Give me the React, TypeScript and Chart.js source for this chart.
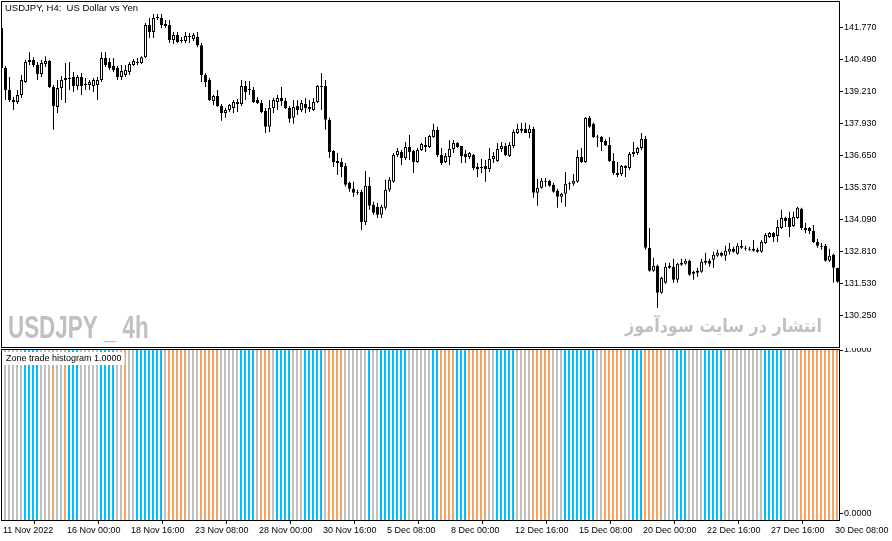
import React, { useEffect, useRef } from "react";
import { Chart, registerables } from "chart.js";
Chart.register(...registerables);

// ---------- DATA ----------
const chartTitle = "USDJPY, H4:  US Dollar vs Yen";
const watermarkSymbol = "USDJPY _ 4h";
const watermarkSite = "انتشار در سایت سودآموز";
const indicatorName = "Zone trade histogram";

const openP = [
  141.73, 140.14, 139.26, 138.86, 138.78, 139.06, 139.58, 140.38, 140.46, 140.26,
  139.90, 140.30, 140.42, 139.38, 138.58, 139.34, 139.66, 139.74, 139.78, 139.42,
  139.78, 139.50, 139.46, 139.42, 139.46, 139.66, 140.54, 140.38, 140.22, 140.14,
  139.78, 139.86, 139.98, 140.26, 140.34, 140.34, 140.57, 141.85, 141.57, 142.13,
  142.13, 141.89, 141.85, 141.25, 141.45, 141.25, 141.21, 141.41, 141.29, 141.37,
  141.05, 139.86, 139.66, 138.82, 139.02, 138.62, 138.34, 138.46, 138.54, 138.78,
  138.70, 139.42, 139.26, 139.26, 138.86, 138.74, 138.42, 137.79, 138.54, 138.78,
  138.94, 138.82, 138.54, 138.15, 138.62, 138.46, 138.70, 138.58, 138.46, 138.78,
  139.42, 139.42, 138.07, 136.83, 136.43, 136.39, 136.23, 135.56, 135.32, 135.20,
  135.20, 134.00, 135.44, 134.68, 134.60, 134.28, 134.56, 135.28, 135.60, 136.67,
  136.79, 136.55, 136.99, 136.83, 136.39, 136.87, 137.07, 136.99, 137.39, 137.67,
  136.67, 136.39, 136.59, 136.91, 137.15, 137.03, 136.71, 136.59, 136.67, 136.19,
  136.19, 136.23, 136.11, 136.51, 136.43, 136.91, 137.03, 136.63, 137.03, 137.55,
  137.63, 137.71, 137.55, 137.71, 135.16, 135.36, 135.64, 135.64, 135.48, 135.24,
  135.00, 135.12, 135.52, 135.52, 135.60, 136.59, 136.39, 138.15, 137.91, 137.39,
  137.39, 137.23, 137.07, 136.43, 135.95, 135.91, 136.23, 136.15, 136.71, 136.75,
  136.95, 137.31, 132.97, 132.05, 132.25, 131.17, 131.57, 132.25, 132.21, 131.69,
  132.29, 132.33, 132.45, 132.01, 131.97, 132.01, 132.45, 132.45, 132.49, 132.65,
  132.77, 132.65, 132.81, 132.93, 132.73, 133.05, 132.97, 132.93, 132.93, 132.89,
  132.81, 133.16, 133.40, 133.56, 133.44, 133.76, 134.16, 134.16, 133.84, 134.16,
  134.52, 133.76, 133.76, 133.64, 133.20, 133.05, 133.05, 132.45, 132.69, 132.17,
];
const highP = [
  141.77, 140.22, 139.78, 138.98, 139.26, 139.86, 140.46, 140.77, 140.57, 140.38,
  140.46, 140.61, 140.46, 139.46, 139.66, 139.82, 140.34, 140.38, 139.98, 139.86,
  139.94, 139.74, 139.66, 139.74, 139.78, 140.77, 140.77, 140.54, 140.54, 140.22,
  140.26, 140.26, 140.38, 140.50, 140.54, 140.61, 141.93, 142.13, 142.29, 142.29,
  142.29, 142.05, 142.05, 141.57, 141.57, 141.37, 141.57, 141.53, 141.53, 141.57,
  141.13, 139.94, 139.74, 139.06, 139.26, 138.70, 138.54, 138.70, 138.86, 138.90,
  139.66, 139.62, 139.62, 139.38, 138.98, 138.86, 138.54, 138.86, 138.94, 139.06,
  139.38, 138.94, 138.62, 138.86, 138.86, 138.86, 138.94, 138.86, 138.94, 139.46,
  139.94, 139.66, 138.15, 136.87, 136.75, 136.55, 136.35, 135.60, 135.60, 135.28,
  135.28, 136.03, 135.79, 134.80, 134.76, 134.68, 135.68, 135.79, 136.75, 136.95,
  136.87, 137.19, 137.47, 136.87, 136.95, 137.15, 137.39, 137.47, 137.91, 137.79,
  136.95, 136.75, 137.27, 137.27, 137.19, 137.03, 136.87, 136.79, 136.71, 136.35,
  136.51, 136.47, 136.95, 136.79, 137.15, 137.19, 137.15, 137.19, 137.67, 137.91,
  137.95, 137.95, 137.87, 137.79, 135.72, 135.75, 135.75, 135.68, 135.56, 135.32,
  135.16, 135.99, 135.60, 135.91, 136.87, 136.95, 138.18, 138.22, 137.95, 137.47,
  137.43, 137.31, 137.39, 136.75, 136.39, 136.27, 136.27, 136.79, 137.19, 136.99,
  137.55, 137.43, 133.76, 132.57, 132.29, 131.81, 132.37, 132.37, 132.53, 132.37,
  132.53, 132.53, 132.49, 132.05, 132.17, 132.53, 132.77, 132.53, 132.81, 132.89,
  132.81, 133.05, 133.16, 133.01, 133.16, 133.28, 133.05, 133.01, 133.28, 132.97,
  133.28, 133.56, 133.60, 133.60, 134.08, 134.48, 134.20, 134.40, 134.40, 134.60,
  134.56, 133.96, 133.80, 133.88, 133.32, 133.16, 133.12, 132.93, 132.73, 132.17,
];
const lowP = [
  140.06, 138.86, 138.78, 138.46, 138.70, 138.94, 139.54, 140.26, 140.18, 139.66,
  139.78, 140.18, 139.34, 137.67, 138.34, 138.86, 138.74, 139.26, 139.18, 139.26,
  139.06, 139.26, 139.26, 139.18, 138.86, 139.58, 140.18, 140.06, 139.98, 139.66,
  139.66, 139.78, 139.86, 140.22, 140.26, 140.30, 140.54, 141.33, 141.33, 142.05,
  141.73, 141.73, 141.13, 141.09, 141.13, 141.13, 141.13, 141.13, 141.21, 140.97,
  139.58, 139.38, 138.82, 138.66, 138.58, 138.03, 138.15, 138.38, 138.34, 138.38,
  138.62, 138.86, 139.06, 138.74, 138.70, 138.34, 137.55, 137.59, 138.34, 138.46,
  138.62, 138.50, 137.95, 137.91, 138.26, 138.38, 138.34, 138.38, 138.42, 138.74,
  138.46, 137.67, 136.55, 136.19, 135.87, 135.79, 135.40, 135.20, 135.00, 135.08,
  133.68, 133.88, 134.48, 134.28, 134.16, 134.16, 134.48, 135.20, 135.56, 136.59,
  136.27, 136.47, 136.47, 135.95, 136.35, 136.83, 136.79, 136.95, 137.35, 136.59,
  136.27, 136.35, 136.27, 136.75, 136.95, 136.35, 136.35, 136.51, 136.07, 135.79,
  135.95, 135.60, 135.99, 136.35, 136.39, 136.79, 136.63, 136.59, 136.95, 137.51,
  137.55, 137.55, 137.35, 134.96, 134.64, 135.32, 135.40, 135.40, 135.16, 134.56,
  134.76, 134.60, 135.28, 135.44, 135.56, 136.35, 136.35, 137.75, 137.35, 136.99,
  136.83, 137.03, 136.39, 135.87, 135.79, 135.83, 135.79, 136.07, 136.59, 136.67,
  136.87, 132.89, 132.01, 132.01, 130.58, 131.13, 131.53, 132.13, 131.57, 131.57,
  132.25, 132.29, 131.85, 131.69, 131.81, 131.97, 132.29, 132.21, 132.17, 132.61,
  132.61, 132.45, 132.69, 132.77, 132.69, 132.93, 132.85, 132.85, 132.81, 132.77,
  132.77, 133.12, 133.36, 133.20, 133.20, 133.72, 133.80, 133.40, 133.80, 134.12,
  133.68, 133.56, 133.52, 133.16, 132.97, 132.89, 132.41, 132.41, 131.57, 131.57,
];
const closeP = [
  140.14, 139.26, 138.86, 138.78, 139.06, 139.66, 140.38, 140.46, 140.26, 139.90,
  140.34, 140.42, 139.38, 138.62, 139.34, 139.66, 139.74, 139.70, 139.42, 139.78,
  139.42, 139.46, 139.58, 139.66, 139.66, 140.54, 140.26, 140.14, 140.06, 139.78,
  140.02, 140.06, 140.30, 140.42, 140.38, 140.57, 141.85, 141.57, 142.13, 142.17,
  141.85, 141.81, 141.25, 141.45, 141.17, 141.21, 141.41, 141.37, 141.45, 141.05,
  139.86, 139.58, 138.86, 139.02, 138.62, 138.34, 138.46, 138.66, 138.78, 138.70,
  139.42, 139.18, 139.30, 138.78, 138.74, 138.38, 137.79, 138.54, 138.86, 138.94,
  138.82, 138.54, 138.11, 138.58, 138.46, 138.74, 138.54, 138.50, 138.78, 139.42,
  139.38, 138.07, 136.79, 136.39, 136.35, 136.19, 135.48, 135.32, 135.16, 135.16,
  134.00, 135.44, 134.64, 134.36, 134.28, 134.60, 135.28, 135.68, 136.67, 136.83,
  136.55, 136.99, 136.79, 136.39, 136.87, 137.11, 136.99, 137.43, 137.67, 136.67,
  136.35, 136.63, 136.91, 137.15, 136.99, 136.63, 136.59, 136.75, 136.15, 136.11,
  136.15, 136.11, 136.51, 136.63, 136.91, 137.03, 136.67, 137.07, 137.59, 137.71,
  137.71, 137.55, 137.71, 135.16, 135.36, 135.64, 135.60, 135.44, 135.20, 135.00,
  135.12, 135.52, 135.50, 135.64, 136.59, 136.39, 138.15, 137.79, 137.39, 137.37,
  137.19, 137.05, 136.43, 135.95, 135.87, 136.23, 136.15, 136.71, 136.79, 136.95,
  137.31, 132.97, 132.05, 132.25, 131.17, 131.77, 132.21, 132.17, 131.69, 132.33,
  132.37, 132.45, 131.89, 131.93, 132.05, 132.41, 132.37, 132.33, 132.69, 132.77,
  132.65, 132.85, 132.93, 132.81, 133.05, 132.97, 132.93, 132.89, 132.85, 132.81,
  133.20, 133.48, 133.56, 133.40, 133.80, 134.16, 134.04, 133.80, 134.20, 134.56,
  133.76, 133.68, 133.64, 133.20, 133.05, 133.01, 132.45, 132.65, 132.17, 131.61,
];

const priceTicks = [130.25, 131.53, 132.81, 134.09, 135.37, 136.65, 137.93, 139.21, 140.49, 141.77];
const priceMin = 129.01;
const priceMax = 142.77;

// zone of each bar: g = neutral, b = buy zone, o = sell zone
const zoneRuns = [
  "g", "ggggg", "bbbb", "ggg", "o", "gg", "o", "bbb", "ggggg", "bbbb", "gg", "o", "gg",
  "bbbbbbb", "g", "ooooo", "ggg", "ooooo", "ggggg", "bbbb", "g", "ooo", "g", "bbbb",
  "ggg", "bbbbb", "g", "oooo", "gggggg", "b", "gg", "bbbbbbb", "gggggg", "bb", "oooo",
  "bbb", "ooooo", "gg", "bbbbb", "gggg", "ooooo", "ggg", "bbbbbbbb", "gg", "ooooo",
  "gg", "bbb", "ooooo", "ggg", "bbb", "gggg", "bbbbb", "gggggggggg", "bbbbb", "gggg",
  "oooooooooo",
];
const zoneCodes = zoneRuns.join("").split("");
const zoneLevel = 1.0;
const zoneTicks = [0, 1];
const zoneColors: Record<string, string> = { g: "#c0c0c0", b: "#00bfff", o: "#f4a460" };

const timeLabels = [
  "11 Nov 2022", "16 Nov 00:00", "18 Nov 16:00", "23 Nov 08:00", "28 Nov 00:00",
  "30 Nov 16:00", "5 Dec 08:00", "8 Dec 00:00", "12 Dec 16:00", "15 Dec 08:00",
  "20 Dec 00:00", "22 Dec 16:00", "27 Dec 16:00", "30 Dec 08:00",
];
const timeLabelBars = [0, 16, 32, 48, 64, 80, 96, 112, 128, 144, 160, 176, 192, 208];

// ---------- STYLE ----------
const FONT = '"Liberation Sans", Arial, sans-serif';
const AXIS_W = 53;
const MAIN_H = 348;
const HIST_H = 541 - MAIN_H;

const framePlugin = {
  id: "frame",
  afterDraw(chart: any) {
    const { ctx, chartArea: a } = chart;
    ctx.save();
    ctx.strokeStyle = "#000";
    ctx.lineWidth = 1;
    ctx.strokeRect(a.left - 0.5, a.top - 0.5, a.right - a.left + 1, a.bottom - a.top + 1);
    ctx.restore();
  },
};

const mainTextPlugin = {
  id: "mainText",
  beforeDatasetsDraw(chart: any) {
    const { ctx } = chart;
    ctx.save();
    ctx.fillStyle = "#c0c0c0";
    ctx.font = `bold 32px ${FONT}`;
    ctx.textBaseline = "alphabetic";
    ctx.textAlign = "left";
    ctx.translate(8, 338);
    ctx.scale(0.7, 1);
    ctx.fillText(watermarkSymbol, 0, 0);
    ctx.restore();

    ctx.save();
    ctx.fillStyle = "#c0c0c0";
    ctx.font = 'bold 18px "DejaVu Sans", sans-serif';
    ctx.textBaseline = "alphabetic";
    ctx.textAlign = "right";
    const w = ctx.measureText(watermarkSite).width || 197;
    ctx.translate(822, 332);
    ctx.scale(197 / w, 1);
    ctx.fillText(watermarkSite, 0, 0);
    ctx.restore();
  },
  afterDraw(chart: any) {
    const { ctx } = chart;
    ctx.save();
    ctx.fillStyle = "#000";
    ctx.font = `9.5px ${FONT}`;
    ctx.textBaseline = "middle";
    ctx.textAlign = "left";
    ctx.fillText(chartTitle, 5, 8);
    ctx.restore();
  },
};

const histTextPlugin = {
  id: "histText",
  afterDatasetsDraw(chart: any) {
    const { ctx } = chart;
    const text = `${indicatorName} ${zoneLevel.toFixed(4)}`;
    ctx.save();
    ctx.font = `9px ${FONT}`;
    const w = ctx.measureText(text).width;
    ctx.fillStyle = "#fff";
    ctx.fillRect(4, 4, w + 5, 13);
    ctx.fillStyle = "#000";
    ctx.textBaseline = "middle";
    ctx.textAlign = "left";
    ctx.fillText(text, 6, 10.5);
    ctx.restore();
  },
};

export default function App() {
  const mainRef = useRef<HTMLCanvasElement>(null);
  const histRef = useRef<HTMLCanvasElement>(null);

  useEffect(() => {
    if (!mainRef.current || !histRef.current) return;
    const idx = openP.map((_, i) => i);

    const main = new Chart(mainRef.current, {
      type: "bar",
      data: {
        datasets: [
          {
            label: "wick",
            data: idx.map((i) => ({ x: i, y: [lowP[i], highP[i]] })) as any,
            backgroundColor: "#000",
            barThickness: 1,
            grouped: false,
            inflateAmount: 0,
            order: 2,
          } as any,
          {
            label: "body",
            data: idx.map((i) => ({ x: i, y: [openP[i], closeP[i]] })) as any,
            backgroundColor: idx.map((i) => (closeP[i] >= openP[i] ? "#ffffff" : "#000000")),
            borderColor: "#000",
            borderWidth: 1,
            borderSkipped: false,
            barThickness: 3,
            minBarLength: 1,
            grouped: false,
            inflateAmount: 0,
            order: 1,
          } as any,
        ],
      },
      options: {
        animation: false,
        responsive: false,
        maintainAspectRatio: false,
        layout: { padding: { left: 2, top: 2, right: 0, bottom: 1 } },
        plugins: { legend: { display: false }, tooltip: { enabled: false } },
        scales: {
          x: { type: "linear", min: 0.125, max: 209.375, offset: false, display: false },
          y: {
            position: "right",
            min: priceMin,
            max: priceMax,
            afterBuildTicks: (s: any) => {
              s.ticks = priceTicks.map((v) => ({ value: v }));
            },
            afterFit: (s: any) => {
              s.width = AXIS_W;
              s.paddingTop = 0;
              s.paddingBottom = 0;
            },
            ticks: {
              callback: (v: any) => Number(v).toFixed(3),
              font: { family: FONT, size: 9 },
              color: "#000",
              padding: 1,
            },
            grid: { drawOnChartArea: false, drawTicks: true, tickLength: 4, color: "#000" },
            border: { display: false },
          },
        },
      } as any,
      plugins: [mainTextPlugin, framePlugin],
    });

    const hist = new Chart(histRef.current, {
      type: "bar",
      data: {
        datasets: [
          {
            label: indicatorName,
            data: zoneCodes.map((_, i) => ({ x: i, y: zoneLevel })) as any,
            backgroundColor: zoneCodes.map((c) => zoneColors[c]),
            barThickness: 2,
            grouped: false,
            inflateAmount: 0,
            base: -0.0375,
          } as any,
        ],
      },
      options: {
        animation: false,
        responsive: false,
        maintainAspectRatio: false,
        layout: { padding: { left: 2, top: 2, right: 0, bottom: 0 } },
        plugins: { legend: { display: false }, tooltip: { enabled: false } },
        scales: {
          x: {
            type: "linear",
            min: 0.25,
            max: 209.5,
            offset: false,
            afterBuildTicks: (s: any) => {
              s.ticks = timeLabelBars.map((b) => ({ value: b + 0.25 }));
            },
            afterFit: (s: any) => {
              s.height = 21;
              s.paddingLeft = 0;
              s.paddingRight = 0;
            },
            ticks: {
              autoSkip: false,
              maxRotation: 0,
              minRotation: 0,
              align: "start",
              labelOffset: 1,
              padding: 1,
              callback: (_v: any, i: number) => timeLabels[i],
              font: { family: FONT, size: 9 },
              color: "#000",
            },
            grid: { drawOnChartArea: false, drawTicks: true, tickLength: 4, color: "#000" },
            border: { display: false },
          },
          y: {
            position: "right",
            min: -0.0375,
            max: 1,
            afterBuildTicks: (s: any) => {
              s.ticks = zoneTicks.map((v) => ({ value: v }));
            },
            afterFit: (s: any) => {
              s.width = AXIS_W;
              s.paddingTop = 0;
              s.paddingBottom = 0;
            },
            ticks: {
              callback: (v: any) => Number(v).toFixed(4),
              font: { family: FONT, size: 9 },
              color: "#000",
              padding: 1,
            },
            grid: { drawOnChartArea: false, drawTicks: true, tickLength: 4, color: "#000" },
            border: { display: false },
          },
        },
      } as any,
      plugins: [histTextPlugin, framePlugin],
    });

    return () => {
      main.destroy();
      hist.destroy();
    };
  }, []);

  return (
    <div style={{ position: "fixed", left: 0, top: 0, width: 892, height: 541, background: "#fff", overflow: "hidden" }}>
      <canvas ref={mainRef} width={892} height={MAIN_H} style={{ position: "absolute", left: 0, top: 0, width: 892, height: MAIN_H }} />
      <canvas ref={histRef} width={892} height={HIST_H} style={{ position: "absolute", left: 0, top: MAIN_H, width: 892, height: HIST_H }} />
    </div>
  );
}
